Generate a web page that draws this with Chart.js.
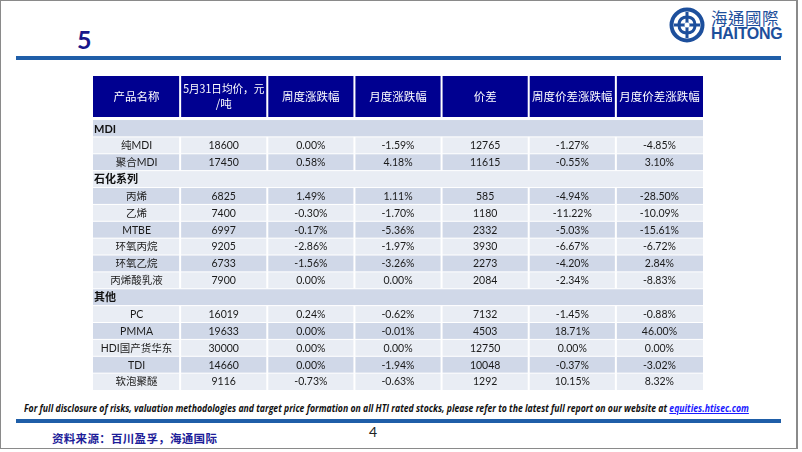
<!DOCTYPE html>
<html>
<head>
<meta charset="utf-8">
<script src="https://cdn.jsdelivr.net/npm/chart.js@4.4.1/dist/chart.umd.min.js"></script>
<style>
  html, body { margin: 0; padding: 0; background: #fff; }
  #slide { position: relative; width: 802px; height: 452px; overflow: hidden; background: #fff; }
  #frame { position: absolute; left: 0; top: 0; width: 798px; height: 449px; border: 1px solid #8a8a8a; border-right-width: 2px; box-sizing: border-box; }
  .abs { position: absolute; white-space: nowrap; }
  #title { left: 77px; top: 24px; font: bold 25px Lato, sans-serif; color: #16168a; }
  .bar { position: absolute; left: 16px; width: 765px; height: 4px; background: #1f5ea8; }
  #disc { left: 24px; top: 401px; font: italic bold 10.5px "Open Sans", sans-serif; color: #111; transform-origin: 0 0; }
  #disc a { color: #1a1aff; text-decoration: underline; }
  #pageno { left: 369px; top: 423px; font: 14px Lato, sans-serif; color: #222; }
  #source { left: 52px; top: 430px; font: bold 11.5px "Noto Sans CJK SC", sans-serif; color: #1d1d99; letter-spacing: 0.3px; }
  #logoTxt1 { left: 711px; top: 6px; font: 16.5px "Noto Sans CJK TC", sans-serif; color: #1d4f9c; letter-spacing: 0.5px; }
  #logoTxt2 { left: 711px; top: 25px; font: bold 16px "Liberation Sans", Arial, sans-serif; color: #1d4f9c; letter-spacing: -0.3px; }
  #tableWrap { position: absolute; left: 93px; top: 76px; width: 610px; height: 314px; }
</style>
</head>
<body>
<div id="slide">
  <div id="frame"></div>
  <div id="title" class="abs">5</div>
  <div class="bar" style="top:56px"></div>
  <svg class="abs" style="left:668px;top:6px" width="38" height="38" viewBox="0 0 38 38">
    <circle cx="19" cy="19" r="15.5" fill="none" stroke="#1d4f9c" stroke-width="4"/>
    <path d="M19 6 V32 M6 19 H32" stroke="#1d4f9c" stroke-width="3"/>
    <path d="M19 11 C25 11 27 15 27 19 M27 19 C27 25 23 27 19 27 M19 27 C13 27 11 23 11 19 M11 19 C11 13 15 11 19 11" fill="none" stroke="#1d4f9c" stroke-width="3"/>
    <circle cx="19" cy="19" r="2.5" fill="#fff"/>
  </svg>
  <div id="logoTxt1" class="abs">海通國際</div>
  <div id="logoTxt2" class="abs">HAITONG</div>
  <div id="tableWrap"><canvas id="tableChart" width="610" height="314"></canvas></div>
  <div id="disc" class="abs">For full disclosure of risks, valuation methodologies and target price formation on all HTI rated stocks, please refer to the latest full report on our website at <a>equities.htisec.com</a></div>
  <div class="bar" style="top:419px"></div>
  <div id="pageno" class="abs">4</div>
  <div id="source" class="abs">资料来源：百川盈孚，海通国际</div>
</div>

<script>
// table data
const headers = ['产品名称', ['5月31日均价，元', '/吨'], '周度涨跌幅', '月度涨跌幅', '价差', '周度价差涨跌幅', '月度价差涨跌幅'];
const groups = ['MDI', '石化系列', '其他'];
const products = ['纯MDI', '聚合MDI', '丙烯', '乙烯', 'MTBE', '环氧丙烷', '环氧乙烷', '丙烯酸乳液', 'PC', 'PMMA', 'HDI国产货华东', 'TDI', '软泡聚醚'];
const productGroup = [0, 0, 1, 1, 1, 1, 1, 1, 2, 2, 2, 2, 2];
const prices = [18600, 17450, 6825, 7400, 6997, 9205, 6733, 7900, 16019, 19633, 30000, 14660, 9116];
const weeklyChg = [0.00, 0.58, 1.49, -0.30, -0.17, -2.86, -1.56, 0.00, 0.24, 0.00, 0.00, 0.00, -0.73];
const monthlyChg = [-1.59, 4.18, 1.11, -1.70, -5.36, -1.97, -3.26, 0.00, -0.62, -0.01, 0.00, -1.94, -0.63];
const spreads = [12765, 11615, 585, 1180, 2332, 3930, 2273, 2084, 7132, 4503, 12750, 10048, 1292];
const spreadWeekly = [-1.27, -0.55, -4.94, -11.22, -5.03, -6.67, -4.20, -2.34, -1.45, 18.71, 0.00, -0.37, 10.15];
const spreadMonthly = [-4.85, 3.10, -28.50, -10.09, -15.61, -6.72, 2.84, -8.83, -0.88, 46.00, 0.00, -3.02, 8.32];

const pct = v => v.toFixed(2) + '%';

// rows in display order: group heading then its products
const rows = [];
products.forEach((p, i) => {
  if (i === 0 || productGroup[i] !== productGroup[i - 1]) rows.push({ group: groups[productGroup[i]] });
  rows.push({ cells: [p, String(prices[i]), pct(weeklyChg[i]), pct(monthlyChg[i]), String(spreads[i]), pct(spreadWeekly[i]), pct(spreadMonthly[i])] });
});

const HEADER_TOP = -2.61, HEADER_BOTTOM = -0.18;
const DARK = '#d0d8e8', LIGHT = '#e9edf4', HEAD = '#000090';
const bodyFont = '10.5px Lato, "Noto Sans CJK SC", sans-serif';

// one point per cell centre, so the cells live on the chart's scales
const cellPoints = [];
rows.forEach((r, ri) => { for (let c = 0; c < 7; c++) cellPoints.push({ x: c + 0.5, y: ri + 0.5 }); });

const tablePlugin = {
  id: 'tableCells',
  afterDatasetsDraw(chart) {
    const { ctx, scales: { x, y } } = chart;
    const left = x.getPixelForValue(0), right = x.getPixelForValue(7);
    ctx.save();
    ctx.textAlign = 'center';
    ctx.textBaseline = 'middle';

    // header
    const hy0 = y.getPixelForValue(HEADER_TOP), hy1 = y.getPixelForValue(HEADER_BOTTOM);
    headers.forEach((h, c) => {
      const x0 = x.getPixelForValue(c), x1 = x.getPixelForValue(c + 1);
      ctx.fillStyle = HEAD;
      ctx.fillRect(x0, hy0, x1 - x0, hy1 - hy0);
      ctx.fillStyle = '#fff';
      ctx.font = '11.5px "Noto Sans CJK SC", sans-serif';
      const lines = Array.isArray(h) ? h : [h];
      const cy = (hy0 + hy1) / 2, lh = 15;
      lines.forEach((t, k) => ctx.fillText(t, (x0 + x1) / 2, cy + (k - (lines.length - 1) / 2) * lh, x1 - x0 - 6));
    });
    ctx.fillStyle = '#fff';
    for (let c = 1; c < 7; c++) ctx.fillRect(x.getPixelForValue(c) - 1, hy0, 2, hy1 - hy0);

    // body rows
    rows.forEach((r, ri) => {
      const y0 = y.getPixelForValue(ri), y1 = y.getPixelForValue(ri + 1);
      ctx.fillStyle = ri % 2 === 0 ? DARK : LIGHT;
      ctx.fillRect(left, y0, right - left, y1 - y0);
      ctx.fillStyle = '#fff';
      if (ri > 0) ctx.fillRect(left, y0 - 0.5, right - left, 1);
      const cy = (y0 + y1) / 2 + 0.5;
      if (r.group) {
        ctx.fillStyle = '#111';
        ctx.font = 'bold 11px Lato, "Noto Sans CJK SC", sans-serif';
        ctx.textAlign = 'left';
        ctx.fillText(r.group, left + 1, cy);
        ctx.textAlign = 'center';
      } else {
        ctx.fillStyle = '#fff';
        for (let c = 1; c < 7; c++) ctx.fillRect(x.getPixelForValue(c) - 1, y0, 2, y1 - y0);
        ctx.fillStyle = '#1a1a1a';
        ctx.font = bodyFont;
        r.cells.forEach((t, c) => ctx.fillText(t, x.getPixelForValue(c + 0.5), cy));
      }
    });
    ctx.restore();
  }
};

new Chart(document.getElementById('tableChart'), {
  type: 'scatter',
  data: { datasets: [{ data: cellPoints, pointRadius: 0, pointHoverRadius: 0 }] },
  options: {
    responsive: false,
    animation: false,
    devicePixelRatio: 1,
    events: [],
    layout: { padding: 0 },
    plugins: { legend: { display: false }, tooltip: { enabled: false } },
    scales: {
      x: { type: 'linear', min: 0, max: 7, display: false },
      y: { type: 'linear', min: HEADER_TOP, max: rows.length, reverse: true, display: false }
    }
  },
  plugins: [tablePlugin]
});

// squeeze the disclaimer line to the slide's width (narrow font in the original)
const disc = document.getElementById('disc');
disc.style.transform = 'scaleX(' + (725 / disc.offsetWidth) + ')';
</script>
</body>
</html>
